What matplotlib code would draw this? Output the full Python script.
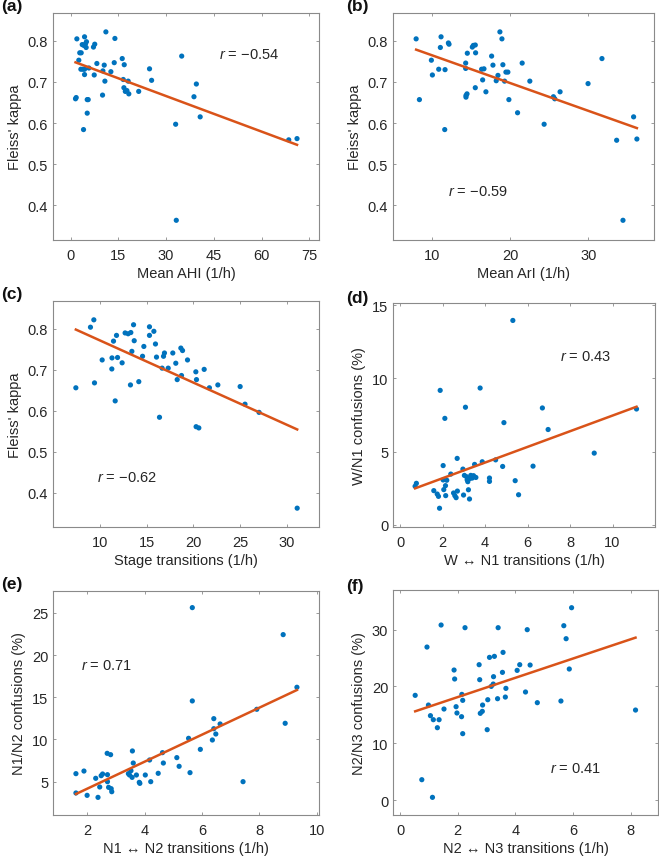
import numpy as np
import matplotlib
matplotlib.use("Agg")
import matplotlib.pyplot as plt

plt.rcParams['font.family'] = ['Liberation Sans', 'DejaVu Sans']
plt.rcParams['mathtext.fontset'] = 'custom'
plt.rcParams['mathtext.it'] = 'Liberation Sans:italic'
plt.rcParams['mathtext.rm'] = 'Liberation Sans'

# ---------------- data ----------------
# (a) Mean AHI vs Fleiss' kappa
ahi = [1.57, 1.78, 1.99, 2.6, 2.9, 3.35, 3.25, 3.67, 3.88, 4.08, 4.2, 4.4, 4.4, 4.4,
       4.7, 4.9, 5.0, 5.24, 5.24, 5.55, 5.76, 7.2, 7.44, 7.6, 8.27, 10.05, 10.16,
       10.58, 10.79, 11.1, 12.67, 13.72, 13.93, 16.23, 16.55, 16.76, 16.86, 17.2,
       17.7, 18.1, 18.3, 21.4, 24.8, 25.45, 33.0, 33.2, 34.9, 38.75, 39.5, 40.7,
       68.5, 71.1]
kappa_a = [0.659, 0.662, 0.805, 0.753, 0.771, 0.771, 0.731, 0.791, 0.731, 0.584,
           0.789, 0.810, 0.718, 0.731, 0.793, 0.784, 0.798, 0.657, 0.624, 0.657,
           0.734, 0.785, 0.717, 0.792, 0.745, 0.668, 0.727, 0.741, 0.702, 0.822,
           0.725, 0.747, 0.806, 0.757, 0.706, 0.686, 0.742, 0.677, 0.679, 0.702,
           0.671, 0.677, 0.732, 0.704, 0.597, 0.363, 0.763, 0.664, 0.695, 0.615,
           0.559, 0.562]
# (b) Mean ArI vs Fleiss' kappa
arl = [7.96, 8.38, 9.91, 10.04, 10.85, 11.15, 11.06, 11.62, 11.66, 12.09, 12.17,
       14.3, 14.3, 14.34, 14.34, 14.47, 14.51, 15.15, 15.28, 15.53, 15.53, 15.57,
       16.34, 16.47, 16.64, 16.89, 17.62, 17.79, 18.21, 18.43, 18.68, 18.94, 19.06,
       19.28, 19.45, 19.7, 19.83, 20.94, 21.53, 22.51, 24.34, 25.53, 25.7, 26.38,
       29.96, 31.74, 33.62, 34.43, 35.79, 36.21]
kappa_b = [0.805, 0.657, 0.753, 0.717, 0.731, 0.810, 0.784, 0.584, 0.730, 0.795,
           0.792, 0.746, 0.733, 0.667, 0.663, 0.671, 0.770, 0.785, 0.789, 0.790,
           0.686, 0.771, 0.731, 0.705, 0.732, 0.676, 0.763, 0.741, 0.703, 0.716,
           0.822, 0.805, 0.742, 0.702, 0.724, 0.724, 0.657, 0.625, 0.746, 0.702,
           0.597, 0.664, 0.659, 0.676, 0.696, 0.757, 0.558, 0.363, 0.615, 0.561]
# (c) Stage transitions vs Fleiss' kappa
stage = [7.44, 9.0, 9.36, 9.43, 10.25, 11.28, 11.3, 11.46, 11.64, 11.78, 11.89,
         12.38, 12.7, 13.02, 13.31, 13.27, 13.42, 13.6, 13.67, 14.16, 14.56, 14.7,
         15.3, 15.3, 15.77, 15.94, 16.05, 16.37, 16.65, 16.8, 16.9, 17.3, 17.79,
         18.11, 18.26, 18.65, 18.83, 18.72, 19.36, 20.25, 20.28, 20.32, 20.57,
         21.14, 21.7, 22.6, 24.98, 25.5, 27.0, 31.07]
kappa_c = [0.656, 0.804, 0.822, 0.668, 0.724, 0.702, 0.729, 0.770, 0.624, 0.784,
           0.730, 0.717, 0.790, 0.788, 0.791, 0.663, 0.745, 0.810, 0.771, 0.671,
           0.733, 0.757, 0.805, 0.784, 0.794, 0.763, 0.731, 0.584, 0.704, 0.733,
           0.741, 0.704, 0.741, 0.716, 0.676, 0.753, 0.747, 0.686, 0.724, 0.695,
           0.561, 0.676, 0.558, 0.701, 0.656, 0.663, 0.659, 0.616, 0.596, 0.362]
# (d) W <-> N1 transitions vs W/N1 confusions
wn1 = [0.71, 0.77, 1.59, 1.75, 1.81, 1.86, 1.89, 2.03, 2.03, 2.06, 2.11, 2.14, 2.15,
       2.2, 2.39, 2.52, 2.58, 2.64, 2.69, 2.7, 2.96, 2.99, 3.03, 3.08, 3.13, 3.16,
       3.19, 3.22, 3.27, 3.29, 3.33, 3.4, 3.46, 3.51, 3.57, 3.77, 3.87, 4.21, 4.21,
       4.5, 4.83, 4.89, 5.31, 5.42, 5.58, 6.26, 6.7, 6.97, 9.14, 11.13]
conf_wn1 = [2.64, 2.84, 2.34, 2.11, 1.95, 1.14, 9.18, 4.05, 3.07, 2.41, 7.27, 2.68,
            2.0, 3.05, 3.47, 2.18, 2.0, 1.86, 4.54, 2.31, 3.81, 2.04, 3.38, 8.03,
            3.29, 3.08, 2.95, 2.4, 1.77, 3.17, 3.38, 3.2, 3.36, 4.13, 3.24, 9.34,
            4.31, 3.2, 2.97, 4.44, 3.99, 6.98, 13.95, 3.02, 2.06, 4.01, 7.98, 6.51,
            4.9, 7.91]
# (e) N1 <-> N2 transitions vs N1/N2 confusions
n1n2 = [1.6, 1.6, 1.88, 1.99, 2.29, 2.37, 2.43, 2.48, 2.53, 2.69, 2.7, 2.7, 2.74,
        2.81, 2.83, 2.85, 3.43, 3.47, 3.52, 3.56, 3.57, 3.6, 3.71, 3.81, 3.83, 4.02,
        4.17, 4.21, 4.47, 4.62, 4.65, 5.12, 5.2, 5.53, 5.58, 5.66, 5.66, 5.94, 6.36,
        6.41, 6.41, 6.48, 6.63, 7.43, 7.91, 8.83, 8.9, 9.31]
conf_n1n2 = [5.95, 3.66, 6.26, 3.38, 5.4, 3.14, 4.37, 5.71, 5.91, 8.36, 5.83, 5.0,
             4.33, 8.2, 4.17, 3.81, 5.95, 5.79, 6.3, 5.51, 8.64, 7.21, 5.79, 4.92,
             4.8, 5.79, 7.57, 5.0, 5.99, 8.44, 7.21, 7.85, 6.82, 10.14, 6.07, 25.63,
             14.57, 8.83, 9.94, 12.47, 11.28, 10.65, 11.84, 5.0, 13.58, 22.43, 11.92,
             16.19]
# (f) N2 <-> N3 transitions vs N2/N3 confusions
n2n3 = [0.52, 0.75, 0.93, 0.98, 1.05, 1.12, 1.15, 1.29, 1.35, 1.42, 1.52, 1.87, 1.89,
        1.94, 1.97, 2.13, 2.14, 2.17, 2.17, 2.25, 2.74, 2.76, 2.78, 2.85, 2.86, 3.02,
        3.04, 3.1, 3.16, 3.23, 3.24, 3.27, 3.38, 3.4, 3.55, 3.57, 3.65, 3.67, 4.06,
        4.15, 4.35, 4.41, 4.51, 4.76, 5.58, 5.68, 5.76, 5.87, 5.95, 8.17]
conf_n2n3 = [18.44, 3.58, 26.95, 16.73, 14.86, 0.47, 14.15, 12.74, 14.15, 30.83,
             16.03, 22.9, 21.32, 16.44, 15.33, 14.68, 18.61, 17.56, 11.69, 30.36,
             23.84, 21.2, 15.27, 15.62, 16.73, 12.39, 17.67, 25.13, 20.02, 20.43,
             21.73, 25.31, 17.85, 30.36, 22.49, 26.01, 18.14, 19.67, 22.84, 23.84,
             19.03, 30.01, 23.78, 17.15, 17.44, 30.71, 28.42, 23.08, 33.88, 15.85]

panel_labels = ['(a)', '(b)', '(c)', '(d)', '(e)', '(f)']
xlabels = ['Mean AHI (1/h)', 'Mean ArI (1/h)', 'Stage transitions (1/h)',
           'W \u2194 N1 transitions (1/h)', 'N1 \u2194 N2 transitions (1/h)',
           'N2 \u2194 N3 transitions (1/h)']
ylabels = ["Fleiss' kappa", "Fleiss' kappa", "Fleiss' kappa",
           'W/N1 confusions (%)', 'N1/N2 confusions (%)', 'N2/N3 confusions (%)']
r_texts = ['\u22120.54', '\u22120.59', '\u22120.62', '0.43', '0.71', '0.41']

xs = [ahi, arl, stage, wn1, n1n2, n2n3]
ys = [kappa_a, kappa_b, kappa_c, conf_wn1, conf_n1n2, conf_n2n3]

# ---------------- layout ----------------
W, H = 659, 862
fig = plt.figure(figsize=(W / 100, H / 100), dpi=100)

boxes = [(53, 14, 319, 241), (393, 14, 654, 241),
         (53, 302, 319, 528), (393, 304, 655, 528),
         (53, 592, 319, 816), (393, 591, 658, 816)]
xlims = [(-5.5, 78), (5, 38.4), (5, 33.4), (-0.33, 12.0), (0.8, 10.08), (-0.25, 8.95)]
ylims = [(0.315, 0.868), (0.315, 0.868), (0.316, 0.868), (-0.14, 15.14),
         (1.05, 27.6), (-2.64, 37.0)]
xticks = [np.arange(0, 76, 15), [10, 20, 30], [10, 15, 20, 25, 30],
          [0, 2, 4, 6, 8, 10], [2, 4, 6, 8, 10], [0, 2, 4, 6, 8]]
yticks = [[0.4, 0.5, 0.6, 0.7, 0.8]] * 3 + [[0, 5, 10, 15], [5, 10, 15, 20, 25],
                                            [0, 10, 20, 30]]
r_pos = [(46.7, 0.769), (12.0, 0.434), (9.75, 0.437), (7.52, 11.55),
         (1.78, 18.87), (5.21, 5.64)]
label_pos = [(1, 7), (346, 7), (1, 295), (346, 298), (1, 585), (346, 587)]

txt_col = '#262626'
spine_col = '#8a8a8a'
fs = 10.5

for i in range(6):
    l, t, r, b = boxes[i]
    ax = fig.add_axes([l / W, 1 - b / H, (r - l) / W, (b - t) / H])
    x = np.array(xs[i], dtype=float)
    y = np.array(ys[i], dtype=float)
    ax.scatter(x, y, s=14, color='#0072BD', edgecolors='none', zorder=3)
    coef = np.polyfit(x, y, 1)
    xx = np.array([x.min(), x.max()])
    ax.plot(xx, np.polyval(coef, xx), color='#D95319', lw=1.8, zorder=4)
    ax.set_xlim(*xlims[i])
    ax.set_ylim(*ylims[i])
    ax.set_xticks(xticks[i])
    ax.set_yticks(yticks[i])
    if i < 3:
        ax.set_yticklabels(['%.1f' % v for v in yticks[i]])
    ax.tick_params(direction='in', length=2.5, width=0.6, color=spine_col,
                   labelcolor=txt_col, labelsize=fs, top=True, right=True)
    ax.tick_params(axis='x', pad=5.5)
    ax.tick_params(axis='y', pad=3.5)
    for sp in ax.spines.values():
        sp.set_color(spine_col)
        sp.set_linewidth(0.8)
    ax.set_xlabel(xlabels[i], fontsize=fs, color=txt_col, labelpad=3)
    ax.set_ylabel(ylabels[i], fontsize=fs, color=txt_col, labelpad=4)
    ax.text(r_pos[i][0], r_pos[i][1], '$r$ = ' + r_texts[i], fontsize=fs,
            color=txt_col, ha='left', va='center')
    px, py = label_pos[i]
    fig.text(px / W, 1 - py / H, panel_labels[i], fontsize=12.5,
             fontweight='bold', color='#111111', ha='left', va='center')

fig.savefig('out.png', dpi=100)
